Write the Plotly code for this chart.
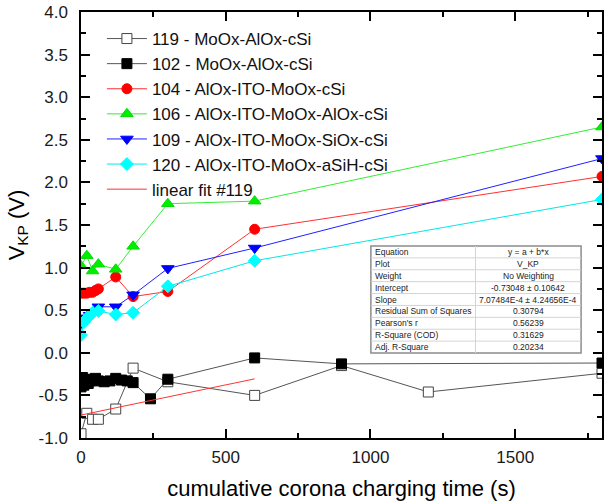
import plotly.graph_objects as go

# ---------------- data ----------------
x119 = [0, 20, 40, 60, 120, 180, 300, 600, 900, 1200, 1800]
y119 = [-0.95, -0.71, -0.78, -0.78, -0.66, -0.18, -0.34, -0.50, -0.15, -0.46, -0.24]

x102 = [0, 5, 10, 15, 20, 25, 30, 40, 50, 60, 80, 100, 120, 140, 160, 180, 240, 300, 600, 900, 1800]
y102 = [-0.40, -0.29, -0.38, -0.33, -0.31, -0.36, -0.33, -0.32, -0.30, -0.33, -0.34, -0.33,
        -0.30, -0.32, -0.33, -0.35, -0.54, -0.31, -0.06, -0.13, -0.12]

x104 = [0, 10, 20, 30, 40, 50, 60, 120, 180, 300, 600, 1800]
y104 = [0.70, 0.70, 0.70, 0.71, 0.71, 0.73, 0.75, 0.89, 0.66, 0.72, 1.45, 2.07]

x106 = [0, 20, 40, 60, 120, 180, 300, 600, 1800]
y106 = [1.02, 1.14, 0.96, 1.04, 0.98, 1.25, 1.75, 1.78, 2.65]

x109 = [0, 10, 20, 30, 40, 60, 120, 180, 300, 600, 1800]
y109 = [0.34, 0.40, 0.41, 0.44, 0.46, 0.54, 0.54, 0.68, 0.99, 1.23, 2.28]

x120 = [0, 10, 20, 30, 40, 60, 120, 180, 300, 600, 1800]
y120 = [0.21, 0.36, 0.40, 0.44, 0.47, 0.49, 0.45, 0.47, 0.78, 1.08, 1.80]

fit_intercept = -0.73048
fit_slope = 7.07484e-4
fit_x = [0, 600]
fit_y = [fit_intercept + fit_slope * v for v in fit_x]

names = ["119 - MoOx-AlOx-cSi", "102 - MoOx-AlOx-cSi", "104 - AlOx-ITO-MoOx-cSi",
         "106 - AlOx-ITO-MoOx-AlOx-cSi", "109 - AlOx-ITO-MoOx-SiOx-cSi",
         "120 - AlOx-ITO-MoOx-aSiH-cSi", "linear fit #119"]

x_tick_vals = [0, 500, 1000, 1500]
x_tick_text = ["0", "500", "1000", "1500"]
y_tick_vals = [-1.0, -0.5, 0.0, 0.5, 1.0, 1.5, 2.0, 2.5, 3.0, 3.5, 4.0]
y_tick_text = ["-1.0", "-0.5", "0.0", "0.5", "1.0", "1.5", "2.0", "2.5", "3.0", "3.5", "4.0"]

table_labels = ["Equation", "Plot", "Weight", "Intercept", "Slope",
                "Residual Sum of Squares", "Pearson's r", "R-Square (COD)", "Adj. R-Square"]
table_values = ["y = a + b*x", "V_KP", "No Weighting", "-0.73048 ± 0.10642",
                "7.07484E-4 ± 4.24656E-4", "0.30794", "0.56239", "0.31629", "0.20234"]

# ---------------- figure ----------------
W, H = 606, 502
ML, MR, MT, MB = 81, 2, 12, 64
PW, PH = W - ML - MR, H - MT - MB
FONT = "Liberation Sans, Arial, sans-serif"

fig = go.Figure()

def add_series(x, y, name, symbol, mcolor, lcolor, fill, size=10):
    fig.add_trace(go.Scatter(
        x=x, y=y, name=name, mode="lines+markers",
        line=dict(color=lcolor, width=1),
        marker=dict(symbol=symbol, size=size, color=fill,
                    line=dict(color=mcolor, width=1)),
    ))

add_series(x119, y119, names[0], "square", "#444444", "#555555", "#ffffff")
add_series(x102, y102, names[1], "square", "#000000", "#555555", "#000000")
add_series(x104, y104, names[2], "circle", "#ff0000", "#ff3030", "#ff0000")
add_series(x106, y106, names[3], "triangle-up", "#00dd00", "#33ee33", "#00ee00", 11)
add_series(x109, y109, names[4], "triangle-down", "#0000ff", "#2020ff", "#0000ff", 11)
add_series(x120, y120, names[5], "diamond", "#00ffff", "#00e8e8", "#00ffff", 10)
fig.add_trace(go.Scatter(x=fit_x, y=fit_y, name=names[6], mode="lines",
                         line=dict(color="#ff3333", width=1)))

# ---------------- fit table (shapes + text) ----------------
def xp(px):
    return (px - ML) / PW

def yp(py):
    return (H - MB - py) / PH

t_left, t_right, t_top, t_bot, t_div = 372, 583, 246, 353, 477
n_rows = len(table_labels)
row_h = (t_bot - t_top) / n_rows
shapes = [dict(type="rect", xref="paper", yref="paper",
               x0=xp(t_left), x1=xp(t_right), y0=yp(t_bot), y1=yp(t_top),
               fillcolor="white", line=dict(color="#8c8c8c", width=1.5), layer="above")]
for i in range(1, n_rows):
    yy = yp(t_top + i * row_h)
    shapes.append(dict(type="line", xref="paper", yref="paper",
                       x0=xp(t_left), x1=xp(t_right), y0=yy, y1=yy,
                       line=dict(color="#d4d4d4", width=1), layer="above"))
shapes.append(dict(type="line", xref="paper", yref="paper",
                   x0=xp(t_div), x1=xp(t_div), y0=yp(t_bot), y1=yp(t_top),
                   line=dict(color="#d4d4d4", width=1), layer="above"))

annotations = []
for i, (lab, val) in enumerate(zip(table_labels, table_values)):
    yc = yp(t_top + (i + 0.5) * row_h)
    annotations.append(dict(x=xp(t_left + 2), y=yc, xref="paper", yref="paper",
                            text=lab, showarrow=False, xanchor="left", yanchor="middle",
                            font=dict(family=FONT, size=8.5, color="#222222")))
    annotations.append(dict(x=xp((t_div + t_right) / 2), y=yc, xref="paper", yref="paper",
                            text=val, showarrow=False, xanchor="center", yanchor="middle",
                            font=dict(family=FONT, size=8.5, color="#222222")))

axis_common = dict(
    showline=True, linecolor="#000000", linewidth=1.5, mirror="ticks",
    ticks="inside", ticklen=9, tickwidth=1.5, tickcolor="#000000",
    showgrid=False, zeroline=False,
    tickfont=dict(family=FONT, size=17, color="#1a1a1a"),
)

fig.update_layout(
    width=W, height=H,
    margin=dict(l=ML, r=MR, t=MT, b=MB, pad=0),
    paper_bgcolor="white", plot_bgcolor="white",
    font=dict(family=FONT, color="#000000"),
    showlegend=True,
    legend=dict(x=xp(102), y=yp(21), xanchor="left", yanchor="top",
                bgcolor="rgba(0,0,0,0)", borderwidth=0, itemwidth=40,
                font=dict(family=FONT, size=17, color="#111111"),
                tracegroupgap=0),
    xaxis=dict(range=[0, 1800], tickmode="array", tickvals=x_tick_vals, ticktext=x_tick_text,
               minor=dict(dtick=250, tick0=0, ticks="inside", ticklen=5, tickwidth=1.5,
                          tickcolor="#000000", showgrid=False),
               title=dict(text="cumulative corona charging time (s)",
                          font=dict(family=FONT, size=22, color="#000000"), standoff=14),
               ticklabelstandoff=3,
               **axis_common),
    yaxis=dict(range=[-1, 4], tickmode="array", tickvals=y_tick_vals, ticktext=y_tick_text,
               minor=dict(dtick=0.25, tick0=0, ticks="inside", ticklen=5, tickwidth=1.5,
                          tickcolor="#000000", showgrid=False),
               title=dict(text="V<sub>KP</sub> (V)",
                          font=dict(family=FONT, size=22, color="#000000"), standoff=8),
               ticklabelstandoff=8,
               **axis_common),
    shapes=shapes,
    annotations=annotations,
)

fig.write_html("out.html")
